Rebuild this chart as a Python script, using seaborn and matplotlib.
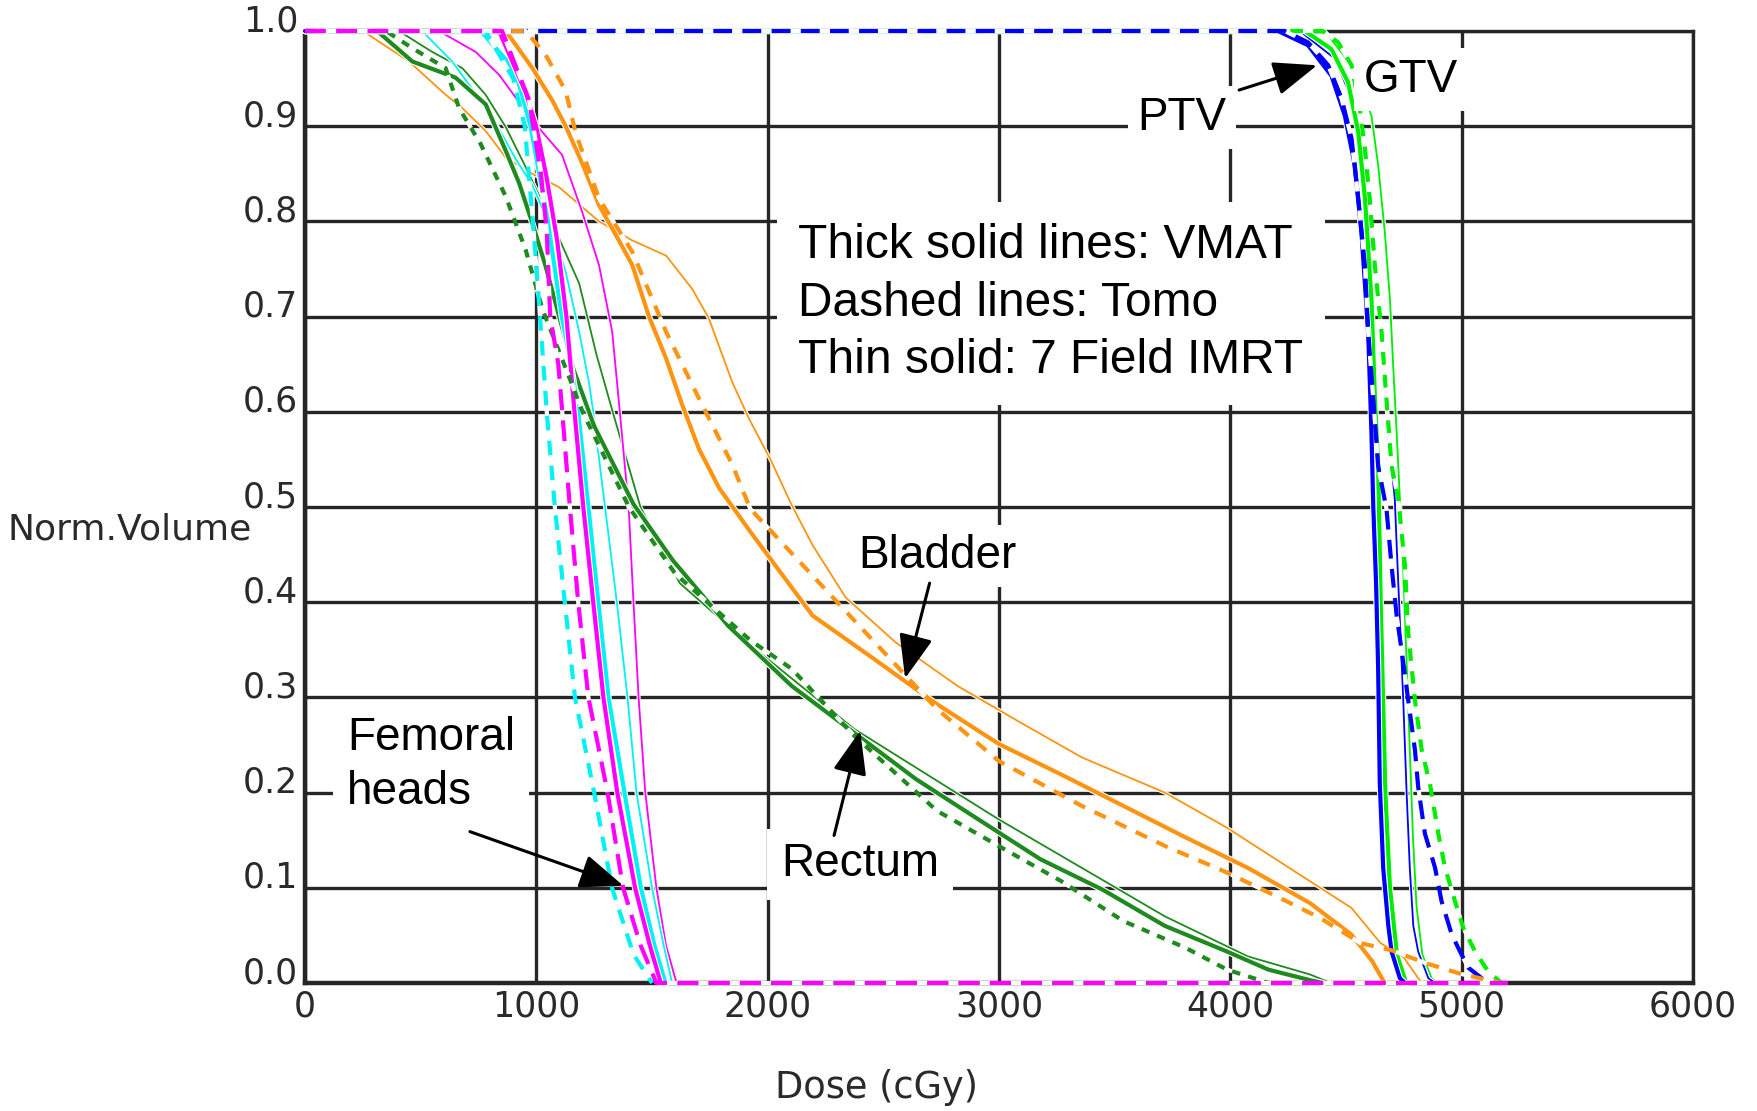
import matplotlib
matplotlib.use("Agg")
import matplotlib.pyplot as plt
import matplotlib.patheffects as pe
import seaborn as sns

# dose (cGy) / normalised volume points read off the DVH, per structure and plan
# femoral heads: magenta = left, cyan = right
fem_l_vmat_d = [0, 839, 955, 999, 1043, 1090, 1130, 1165, 1203, 1246, 1290, 1350, 1427, 1490, 1538]
fem_l_vmat_v = [1, 1, 0.935, 0.9, 0.848, 0.78, 0.7, 0.6, 0.5, 0.4, 0.3, 0.2, 0.1, 0.04, 0]
fem_l_tomo_d = [0, 852, 911, 968, 1000, 1020, 1045, 1060, 1095, 1112, 1145, 1181, 1225, 1308, 1375, 1450, 1519, 5200]
fem_l_tomo_v = [1, 1, 0.963, 0.928, 0.88, 0.85, 0.79, 0.7, 0.65, 0.6, 0.5, 0.4, 0.3, 0.2, 0.1, 0.04, 0, 0]
fem_l_imrt_d = [0, 579, 738, 839, 983, 1111, 1198, 1271, 1328, 1357, 1380, 1399, 1420, 1442, 1471, 1519, 1560, 1606]
fem_l_imrt_v = [1, 1, 0.978, 0.954, 0.906, 0.87, 0.81, 0.754, 0.684, 0.61, 0.55, 0.5, 0.4, 0.3, 0.2, 0.1, 0.04, 0]

fem_r_vmat_d = [0, 760, 868, 930, 975, 1050, 1110, 1150, 1181, 1225, 1268, 1312, 1381, 1452, 1510, 1558]
fem_r_vmat_v = [1, 1, 0.97, 0.94, 0.9, 0.8, 0.7, 0.65, 0.6, 0.5, 0.4, 0.3, 0.2, 0.1, 0.04, 0]
fem_r_tomo_d = [0, 780, 900, 950, 985, 1010, 1045, 1080, 1123, 1167, 1250, 1327, 1420, 1500]
fem_r_tomo_v = [1, 1, 0.95, 0.9, 0.8, 0.72, 0.6, 0.5, 0.4, 0.3, 0.2, 0.1, 0.03, 0]
fem_r_imrt_d = [0, 506, 636, 750, 839, 912, 983, 1069, 1127, 1185, 1228, 1246, 1297, 1348, 1394, 1433, 1500, 1550, 1587]
fem_r_imrt_v = [1, 1, 0.968, 0.93, 0.897, 0.865, 0.838, 0.79, 0.747, 0.684, 0.63, 0.6, 0.5, 0.4, 0.3, 0.2, 0.1, 0.04, 0]

rect_vmat_d = [0, 312, 464, 651, 781, 868, 926, 983, 1040, 1090, 1160, 1250, 1420, 1590, 1830, 2104,
               2373, 2642, 2910, 3179, 3448, 3717, 3986, 4165, 4344, 4400]
rect_vmat_v = [1, 1, 0.968, 0.951, 0.923, 0.874, 0.84, 0.798, 0.753, 0.708, 0.645, 0.585, 0.503, 0.444,
               0.375, 0.312, 0.263, 0.214, 0.172, 0.13, 0.098, 0.06, 0.033, 0.014, 0.003, 0]
rect_tomo_d = [0, 350, 464, 608, 666, 760, 868, 954, 1026, 1120, 1200, 1400, 1600, 1925, 2104, 2373,
               2731, 2998, 3269, 3538, 3806, 3986, 4165]
rect_tomo_v = [1, 1, 0.982, 0.961, 0.919, 0.881, 0.826, 0.77, 0.708, 0.65, 0.6, 0.5, 0.43, 0.36, 0.33,
               0.26, 0.181, 0.144, 0.107, 0.065, 0.037, 0.014, 0]
rect_imrt_d = [0, 406, 550, 680, 781, 868, 954, 1069, 1185, 1260, 1330, 1450, 1620, 1900, 2373, 2998,
               3717, 4075, 4344, 4434]
rect_imrt_v = [1, 1, 0.978, 0.961, 0.933, 0.899, 0.857, 0.798, 0.735, 0.66, 0.6, 0.5, 0.42, 0.36, 0.267,
               0.172, 0.07, 0.028, 0.009, 0]

blad_vmat_d = [0, 868, 983, 1069, 1127, 1200, 1271, 1357, 1415, 1487, 1561, 1631, 1703, 1790, 1925, 2194,
               2462, 2731, 3000, 3269, 3538, 3806, 4075, 4344, 4523, 4613, 4667]
blad_vmat_v = [1, 1, 0.961, 0.927, 0.9, 0.86, 0.817, 0.78, 0.754, 0.7, 0.656, 0.607, 0.561, 0.52, 0.474,
               0.386, 0.34, 0.293, 0.251, 0.219, 0.186, 0.153, 0.121, 0.084, 0.051, 0.023, 0]
blad_tomo_d = [0, 954, 1040, 1127, 1170, 1271, 1415, 1561, 1703, 1848, 1925, 2140, 2462, 2731, 3000, 3358,
               3717, 3986, 4234, 4390, 4562, 4702, 4842, 4998, 5170]
blad_tomo_v = [1, 1, 0.975, 0.937, 0.893, 0.824, 0.768, 0.684, 0.614, 0.544, 0.498, 0.442, 0.358, 0.288,
               0.233, 0.186, 0.144, 0.116, 0.087, 0.068, 0.042, 0.034, 0.021, 0.0095, 0]
blad_imrt_d = [0, 250, 450, 608, 680, 781, 868, 983, 1098, 1271, 1415, 1561, 1674, 1746, 1847, 1919, 2014,
               2104, 2194, 2337, 2552, 2821, 3090, 3358, 3717, 3986, 4254, 4523, 4649, 4749, 4827]
blad_imrt_v = [1, 1, 0.968, 0.933, 0.919, 0.895, 0.867, 0.85, 0.836, 0.8, 0.78, 0.764, 0.729, 0.698, 0.631,
               0.593, 0.549, 0.502, 0.46, 0.405, 0.358, 0.312, 0.274, 0.237, 0.2, 0.163, 0.121, 0.079,
               0.042, 0.027, 0]

ptv_vmat_d = [0, 4206, 4336, 4437, 4495, 4538, 4567, 4596, 4610, 4618, 4630, 4639, 4646, 4661, 4683, 4697, 4733, 4755]
ptv_vmat_v = [1, 1, 0.985, 0.953, 0.911, 0.859, 0.788, 0.683, 0.578, 0.5, 0.42, 0.33, 0.21, 0.12, 0.06, 0.033, 0.005, 0]
ptv_tomo_d = [0, 4235, 4336, 4423, 4481, 4524, 4553, 4582, 4596, 4618, 4639, 4675, 4697, 4719, 4740, 4769,
              4798, 4812, 4841, 4885, 4913, 4957, 4993, 5029, 5087, 5115]
ptv_tomo_v = [1, 1, 0.988, 0.964, 0.929, 0.887, 0.824, 0.753, 0.683, 0.613, 0.543, 0.498, 0.438, 0.386,
              0.35, 0.297, 0.245, 0.206, 0.157, 0.121, 0.086, 0.051, 0.033, 0.016, 0.005, 0]
ptv_imrt_d = [0, 4300, 4452, 4524, 4582, 4610, 4654, 4683, 4711, 4719, 4726, 4747, 4762, 4776, 4791, 4812, 4856, 4885]
ptv_imrt_v = [1, 1, 0.971, 0.929, 0.859, 0.788, 0.683, 0.578, 0.508, 0.46, 0.42, 0.3, 0.2, 0.12, 0.06, 0.033, 0.005, 0]

gtv_vmat_d = [0, 4322, 4437, 4509, 4553, 4582, 4610, 4625, 4639, 4650, 4660, 4670, 4690, 4720, 4760]
gtv_vmat_v = [1, 1, 0.981, 0.946, 0.894, 0.824, 0.718, 0.613, 0.543, 0.4, 0.3, 0.2, 0.1, 0.03, 0]
gtv_tomo_d = [0, 4400, 4466, 4524, 4560, 4582, 4603, 4625, 4654, 4675, 4697, 4726, 4755, 4769, 4798, 4827,
              4863, 4899, 4928, 4971, 5007, 5058, 5115, 5173]
gtv_tomo_v = [1, 1, 0.988, 0.964, 0.918, 0.876, 0.823, 0.753, 0.683, 0.613, 0.543, 0.508, 0.438, 0.368,
              0.297, 0.245, 0.209, 0.157, 0.121, 0.086, 0.058, 0.033, 0.012, 0]
gtv_imrt_d = [0, 4408, 4524, 4582, 4610, 4639, 4668, 4690, 4704, 4719, 4733, 4745, 4760, 4775, 4790, 4805, 4830, 4870, 4895]
gtv_imrt_v = [1, 1, 0.964, 0.929, 0.911, 0.859, 0.788, 0.718, 0.648, 0.578, 0.508, 0.45, 0.35, 0.25, 0.15, 0.08, 0.03, 0.005, 0]

x_ticks = [0, 1000, 2000, 3000, 4000, 5000, 6000]
y_ticks = [0.0, 0.1, 0.2, 0.3, 0.4, 0.5, 0.6, 0.7, 0.8, 0.9, 1.0]

MAGENTA = "#ff00ff"
CYAN = "#00f2f2"
DKGREEN = "#1f8a1f"
ORANGE = "#ff9412"
BLUE = "#0000ff"
LIME = "#00ee00"
GRID = "#262626"

sns.set_style("white")
plt.rcParams["font.family"] = ["DejaVu Sans"]

fig = plt.figure(figsize=(17.58, 11.11), dpi=100)
ax = fig.add_axes([305 / 1758, 1 - 983 / 1111, 1388 / 1758, 952 / 1111])


def solid(d, v, color, lw, z):
    sns.lineplot(x=d, y=v, ax=ax, color=color, lw=lw, sort=False, estimator=None,
                 legend=False, clip_on=False, zorder=z, solid_joinstyle="round",
                 path_effects=[pe.Stroke(linewidth=lw + 1.6, foreground="white"), pe.Normal()])


def dashed(d, v, color, dash, z):
    sns.lineplot(x=d, y=v, ax=ax, color=color, lw=3.0, sort=False, estimator=None,
                 legend=False, clip_on=False, zorder=z, linestyle=(0, dash), gapcolor="white")


# thin solid: 7 field IMRT
solid(blad_imrt_d, blad_imrt_v, ORANGE, 1.3, 3)
solid(rect_imrt_d, rect_imrt_v, DKGREEN, 1.3, 3)
solid(fem_l_imrt_d, fem_l_imrt_v, MAGENTA, 1.3, 3)
solid(fem_r_imrt_d, fem_r_imrt_v, CYAN, 1.3, 3)
solid(gtv_imrt_d, gtv_imrt_v, LIME, 1.3, 3)
solid(ptv_imrt_d, ptv_imrt_v, BLUE, 1.3, 3)

# thick solid: VMAT
solid(blad_vmat_d, blad_vmat_v, ORANGE, 3.0, 4)
solid(rect_vmat_d, rect_vmat_v, DKGREEN, 3.0, 4)
solid(fem_r_vmat_d, fem_r_vmat_v, CYAN, 3.0, 4)
solid(fem_l_vmat_d, fem_l_vmat_v, MAGENTA, 3.0, 4)
solid(gtv_vmat_d, gtv_vmat_v, LIME, 3.0, 4)
solid(ptv_vmat_d, ptv_vmat_v, BLUE, 3.0, 4)

# dashed: Tomo
dashed(gtv_tomo_d, gtv_tomo_v, LIME, (3, 2.5), 5)
dashed(ptv_tomo_d, ptv_tomo_v, BLUE, (4.5, 2.5), 6)
dashed(rect_tomo_d, rect_tomo_v, DKGREEN, (2, 2), 7)
dashed(fem_r_tomo_d, fem_r_tomo_v, CYAN, (3.5, 2.5), 8)
dashed(blad_tomo_d, blad_tomo_v, ORANGE, (3, 2.5), 9)
dashed(fem_l_tomo_d, fem_l_tomo_v, MAGENTA, (5, 2.5), 10)

ax.set_xlim(0, 6000)
ax.set_ylim(0, 1)
ax.set_xticks(x_ticks)
ax.set_yticks(y_ticks)
ax.set_xticklabels([str(t) for t in x_ticks])
ax.set_yticklabels([f"{t:.1f}" for t in y_ticks])
ax.grid(True, color=GRID, lw=2.4)
ax.set_axisbelow(True)
for side in ["left", "bottom", "top", "right"]:
    ax.spines[side].set_visible(True)
    ax.spines[side].set_color(GRID)
    ax.spines[side].set_linewidth(2.4)
ax.spines["left"].set_linewidth(3.2)
ax.spines["bottom"].set_linewidth(3.2)
ax.tick_params(axis="x", length=0, pad=5, labelsize=25, labelcolor="#2a2a2a")
ax.tick_params(axis="y", length=4, width=2.4, color=GRID, pad=1, labelsize=25, labelcolor="#2a2a2a")
for lab in ax.get_yticklabels():
    lab.set_verticalalignment("baseline")
ax.set_xlabel("")
ax.set_ylabel("")

fig.text(130 / 1758, 1 - 529 / 1111, "Norm.Volume", ha="center", va="center",
         fontsize=26, color="#2a2a2a")
fig.text(877 / 1758, 1 - 1087 / 1111, "Dose (cGy)", ha="center", va="center",
         fontsize=26.5, color="#2a2a2a")

ann = dict(family=["Liberation Sans", "DejaVu Sans"], color="black", zorder=20)


def label(x, y, s, ha="center", pad=0.2, size=33, **kw):
    ax.text(x, y, s, ha=ha, va="center", fontsize=size,
            bbox=dict(boxstyle=f"square,pad={pad}", fc="white", ec="none"), **ann, **kw)


def arrow(tail, head):
    ax.annotate("", xy=head, xytext=tail, zorder=21,
                arrowprops=dict(arrowstyle="-|>,head_length=0.9,head_width=0.35", color="black",
                                lw=2.2, mutation_scale=30, shrinkA=0, shrinkB=0))


label(3792, 0.909, "PTV")
label(4780, 0.949, "GTV")
label(2133, 0.714, "Thick solid lines: VMAT\nDashed lines: Tomo\nThin solid: 7 Field IMRT",
      ha="left", pad=0.45, size=34.5, linespacing=1.36)
label(2732, 0.4485, "Bladder")
label(2400, 0.1245, "Rectum", pad=0.3)
label(182, 0.229, "Femoral\nheads", ha="left", pad=0.3, linespacing=1.3)

arrow((4038, 0.938), (4375, 0.964))
arrow((2700, 0.42), (2594, 0.32))
arrow((2287, 0.155), (2400, 0.265))
arrow((713, 0.159), (1377, 0.102))

fig.savefig("out.png", dpi=100, facecolor="white")
